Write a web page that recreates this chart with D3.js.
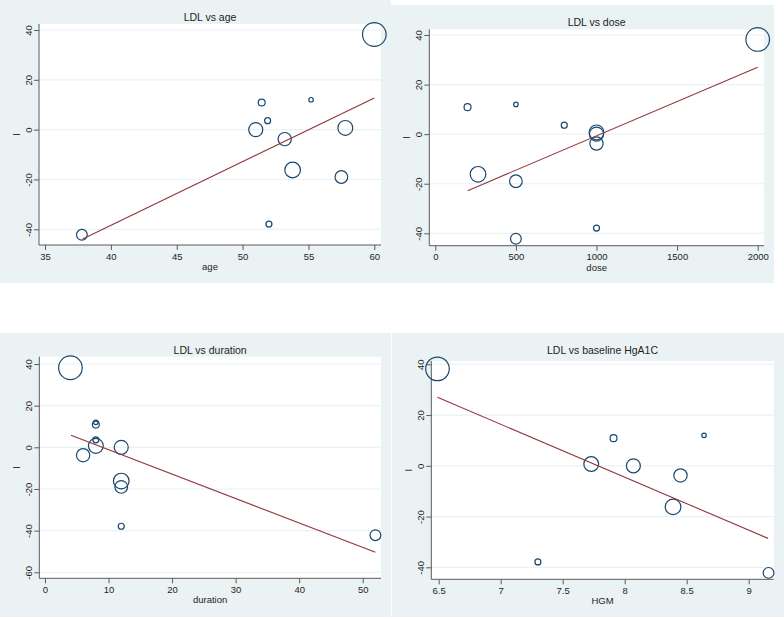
<!DOCTYPE html>
<html>
<head>
<meta charset="utf-8">
<script src="https://cdn.jsdelivr.net/npm/d3@7"></script>
<style>
  body { margin: 0; background: #fff; }
  svg { display: block; }
  text { font-family: "Liberation Sans", Arial, sans-serif; fill: #1e1e1e; }
</style>
</head>
<body>
<script>
// One entry per study (same order in every array)
var ldl      = [38.2, 10.9, 12.0, 3.6, 0.0, 0.7, -3.8, -16.2, -19.0, -37.9, -42.2];
var age      = [60.0, 51.45, 55.2, 51.9, 51.0, 57.8, 53.2, 53.8, 57.5, 52.0, 37.8];
var dose     = [2000, 200, 500, 800, 1000, 1000, 1000, 265, 500, 1000, 500];
var duration = [4, 8, 8, 8, 12, 8, 6, 12, 12, 12, 52];
var hgm      = [6.49, 7.91, 8.64, null, 8.07, 7.73, 8.45, 8.39, null, 7.30, 9.16];
var weight   = [139, 12, 5, 9, 49, 55, 44, 61, 40, 9, 29];

// fitted lines (end points)
var fitAgeX = [37.86, 60],   fitAgeY = [-43.9, 12.7];
var fitDoseX = [201, 2000],  fitDoseY = [-22.8, 27.0];
var fitDurX = [4.09, 52],    fitDurY = [5.8, -50.4];
var fitHgmX = [6.49, 9.156], fitHgmY = [27.0, -28.6];

// tick labels
var ageTicks  = [35, 40, 45, 50, 55, 60];
var doseTicks = [0, 500, 1000, 1500, 2000];
var durTicks  = [0, 10, 20, 30, 40, 50];
var hgmTicks  = [6.5, 7, 7.5, 8, 8.5, 9];
var ldlTicks  = [40, 20, 0, -20, -40];
var ldlTicks2 = [40, 20, 0, -20, -40, -60];

var svg = d3.select("body")
  .append("svg")
  .attr("width", 784)
  .attr("height", 619);

// layout of the 4 graphs: bg box, plot box, and where the end ticks sit
var panels = [
  { title: "LDL vs age", xlab: "age", xs: age, fx: fitAgeX, fy: fitAgeY,
    xt: ageTicks, yt: ldlTicks,
    bg: [0, 0, 391, 283], plot: [39, 24, 381, 245],
    xd: [35, 60], xr: [45, 374.3], yd: [40, -40], yr: [30, 229.3] },
  { title: "LDL vs dose", xlab: "dose", xs: dose, fx: fitDoseX, fy: fitDoseY,
    xt: doseTicks, yt: ldlTicks,
    bg: [391, 5, 774, 283], plot: [429.3, 29.3, 764, 245.7],
    xd: [0, 2000], xr: [435.3, 757.7], yd: [40, -40], yr: [35, 233.3] },
  { title: "LDL vs duration", xlab: "duration", xs: duration, fx: fitDurX, fy: fitDurY,
    xt: durTicks, yt: ldlTicks2,
    bg: [0, 333, 391, 617], plot: [39.3, 356.7, 381, 578.3],
    xd: [0, 50], xr: [45, 362.7], yd: [40, -60], yr: [364, 572.3] },
  { title: "LDL vs baseline HgA1C", xlab: "HGM", xs: hgm, fx: fitHgmX, fy: fitHgmY,
    xt: hgmTicks, yt: ldlTicks,
    bg: [392, 333, 784, 617], plot: [431.3, 361, 773.7, 579.3],
    xd: [6.5, 9], xr: [438.7, 748.7], yd: [40, -40], yr: [364.3, 567.3] }
];

var rScale = d3.scaleSqrt().domain([0, d3.max(weight)]).range([0, 11.8]);
var bgColor = "#eaf2f3";
var axisColor = "#5a5a5a";

panels.forEach(function(p) {
  var g = svg.append("g");
  var x = d3.scaleLinear().domain(p.xd).range(p.xr);
  var y = d3.scaleLinear().domain(p.yd).range(p.yr);
  var x0 = p.plot[0], y0 = p.plot[1], x1 = p.plot[2], y1 = p.plot[3];

  g.append("rect")
    .attr("x", p.bg[0]).attr("y", p.bg[1])
    .attr("width", p.bg[2] - p.bg[0]).attr("height", p.bg[3] - p.bg[1])
    .attr("fill", bgColor);

  g.append("rect")
    .attr("x", x0).attr("y", y0)
    .attr("width", x1 - x0).attr("height", y1 - y0)
    .attr("fill", "#fff");

  // grid lines
  g.append("g").selectAll("line")
    .data(p.yt)
    .enter()
    .append("line")
    .attr("x1", x0).attr("x2", x1)
    .attr("y1", d => y(d)).attr("y2", d => y(d))
    .attr("stroke", bgColor)
    .attr("stroke-width", 1.2);

  // y axis
  var yAxis = g.append("g")
    .attr("transform", `translate(${x0},0)`)
    .call(d3.axisLeft(y).tickValues(p.yt).tickSize(5).tickSizeOuter(0)
      .tickFormat(d => String(d)));
  yAxis.select(".domain").remove();
  yAxis.selectAll("line").attr("stroke", axisColor);
  yAxis.selectAll("text")
    .attr("x", null).attr("dy", null)
    .attr("text-anchor", "middle")
    .attr("transform", "translate(-7,0) rotate(-90)")
    .style("font-size", "9.5px");

  // x axis
  var xAxis = g.append("g")
    .attr("transform", `translate(0,${y1})`)
    .call(d3.axisBottom(x).tickValues(p.xt).tickSize(5).tickSizeOuter(0)
      .tickFormat(d => String(d)));
  xAxis.select(".domain").remove();
  xAxis.selectAll("line").attr("stroke", axisColor);
  xAxis.selectAll("text")
    .attr("y", 14.5).attr("dy", null)
    .style("font-size", "9.5px");

  g.append("line")
    .attr("x1", x0).attr("x2", x0).attr("y1", y0).attr("y2", y1)
    .attr("stroke", axisColor);
  g.append("line")
    .attr("x1", x0).attr("x2", x1).attr("y1", y1).attr("y2", y1)
    .attr("stroke", axisColor);

  // bubbles
  var pts = [];
  for (var i = 0; i < ldl.length; i++) {
    if (p.xs[i] != null) pts.push({ x: p.xs[i], y: ldl[i], w: weight[i] });
  }
  g.append("g").selectAll("circle")
    .data(pts)
    .enter()
    .append("circle")
    .attr("cx", d => x(d.x))
    .attr("cy", d => y(d.y))
    .attr("r", d => rScale(d.w))
    .attr("fill", "none")
    .attr("stroke", "#1a476f")
    .attr("stroke-width", 1.2);

  // fitted line
  var line = d3.line().x(d => x(d[0])).y(d => y(d[1]));
  g.append("path")
    .datum([[p.fx[0], p.fy[0]], [p.fx[1], p.fy[1]]])
    .attr("d", line)
    .attr("fill", "none")
    .attr("stroke", "#90353b")
    .attr("stroke-width", 1.1);

  // titles
  g.append("text")
    .attr("x", (x0 + x1) / 2)
    .attr("y", p.bg[1] + 21)
    .attr("text-anchor", "middle")
    .style("font-size", "10.5px")
    .text(p.title);

  g.append("text")
    .attr("x", (x0 + x1) / 2)
    .attr("y", y1 + 25)
    .attr("text-anchor", "middle")
    .style("font-size", "9.5px")
    .text(p.xlab);

  g.append("text")
    .attr("transform", `translate(${x0 - 19},${(y0 + y1) / 2}) rotate(-90)`)
    .attr("text-anchor", "middle")
    .style("font-size", "9.5px")
    .text("l");
});
</script>
</body>
</html>
